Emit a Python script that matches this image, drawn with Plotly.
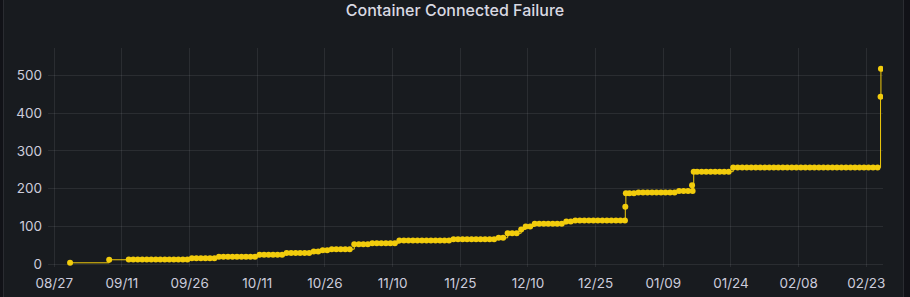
import pandas as pd
import plotly.graph_objects as go

# ---- data ----
# daily samples (taken at 12:00) held at a level from run_start until the next run_start
run_start = ["2023-09-12", "2023-09-26", "2023-10-02", "2023-10-11", "2023-10-17",
             "2023-10-23", "2023-10-25", "2023-10-27", "2023-11-01", "2023-11-05",
             "2023-11-11", "2023-11-23", "2023-12-03", "2023-12-05", "2023-12-08",
             "2023-12-09", "2023-12-11", "2023-12-18", "2023-12-20", "2024-01-01",
             "2024-01-03", "2024-01-12", "2024-01-16", "2024-01-24"]
run_level = [13, 16, 20, 25, 30,
             34, 37, 40, 53, 56,
             63, 66, 70, 82, 92,
             100, 107, 113, 116, 188,
             190, 194, 245, 256]
run_last_day = "2024-02-25"

# irregular single samples
extra_time = ["2023-08-30 12:00", "2023-09-08 04:00", "2023-12-31 14:00", "2023-12-31 17:00",
              "2024-01-15 09:00", "2024-01-15 18:00", "2024-02-26 04:00", "2024-02-26 06:00"]
extra_value = [4, 12, 152, 188, 209, 245, 443, 517]

x_tick_dates = ["2023-08-27", "2023-09-11", "2023-09-26", "2023-10-11", "2023-10-26",
                "2023-11-10", "2023-11-25", "2023-12-10", "2023-12-25", "2024-01-09",
                "2024-01-24", "2024-02-08", "2024-02-23"]
y_ticks = [0, 100, 200, 300, 400, 500]

title = "Container Connected Failure"

# ---- build series ----
times, values = [], []
ends = [pd.Timestamp(s) for s in run_start[1:]] + [pd.Timestamp(run_last_day) + pd.Timedelta(days=1)]
for s, e, lv in zip(run_start, ends, run_level):
    for d in pd.date_range(pd.Timestamp(s), e - pd.Timedelta(days=1), freq="D"):
        times.append(d + pd.Timedelta(hours=12))
        values.append(lv)
for t, v in zip(extra_time, extra_value):
    times.append(pd.Timestamp(t))
    values.append(v)
df = pd.DataFrame({"t": times, "v": values}).sort_values("t")

YELLOW = "#F2CC0C"
TEXT = "rgb(204,204,220)"
GRID = "rgba(204,204,220,0.10)"
FONT = "Inter, Roboto, sans-serif"

fig = go.Figure()
fig.add_trace(go.Scatter(
    x=df["t"], y=df["v"], mode="lines+markers",
    line=dict(color=YELLOW, width=1, shape="hv"),
    marker=dict(color=YELLOW, size=6, line=dict(width=0)),
    hoverinfo="skip", showlegend=False,
))

fig.update_layout(
    width=910, height=297,
    margin=dict(l=48, r=27, t=48, b=30, pad=0, autoexpand=False),
    paper_bgcolor="#111217",
    plot_bgcolor="rgba(0,0,0,0)",
    font=dict(family=FONT, size=13.5, color=TEXT),
    title=dict(text=title, x=0.5, xref="container", xanchor="center",
               y=1 - 10 / 297, yref="container", yanchor="middle",
               font=dict(family=FONT, size=16, color="rgb(216,217,226)", weight=500)),
    xaxis=dict(
        type="date",
        range=["2023-08-25 14:30", "2024-02-26 17:00"],
        tickvals=x_tick_dates, tickformat="%m/%d",
        showgrid=True, gridcolor=GRID, gridwidth=1,
        zeroline=False, showline=False, ticks="",
        tickfont=dict(size=13.5, color=TEXT),
        ticklabelstandoff=6, automargin=False,
        fixedrange=True,
    ),
    yaxis=dict(
        range=[-7.1, 572.2],
        tickvals=y_ticks,
        showgrid=True, gridcolor=GRID, gridwidth=1,
        zeroline=False, showline=False, ticks="",
        tickfont=dict(size=13.5, color=TEXT),
        ticklabelstandoff=5, automargin=False,
        fixedrange=True,
    ),
    shapes=[dict(
        type="rect", xref="paper", yref="paper", layer="below",
        x0=(3.5 - 48) / 835, x1=(903.5 - 48) / 835, y0=-0.5, y1=1.5,
        fillcolor="#181b1f", line=dict(color="rgba(204,204,220,0.12)", width=1),
    )],
)

fig.write_html("out.html")
